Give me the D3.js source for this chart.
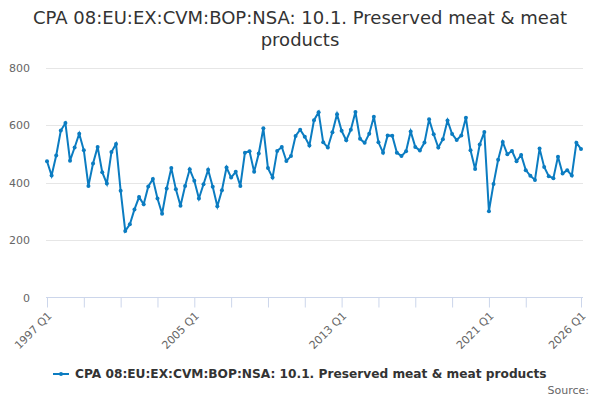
<!DOCTYPE html>
<html>
<head>
<meta charset="utf-8">
<script src="https://cdn.jsdelivr.net/npm/d3@7"></script>
<style>
  body { margin: 0; background: #fff; }
  svg { font-family: "DejaVu Sans", sans-serif; }
</style>
</head>
<body>
<svg id="chart"></svg>
<script>
var w = 600;
var h = 400;

var title = ["CPA 08:EU:EX:CVM:BOP:NSA: 10.1. Preserved meat & meat", "products"];
var seriesName = "CPA 08:EU:EX:CVM:BOP:NSA: 10.1. Preserved meat & meat products";
var startYear = 1997;
var values = [
    475, 425, 495, 582, 608, 477, 523, 571, 513, 389,
    467, 525, 437, 397, 507, 535, 372, 232, 255, 307,
    350, 325, 387, 413, 345, 292, 380, 451, 377, 320,
    389, 447, 407, 345, 395, 445, 386, 318, 374, 453,
    418, 438, 389, 505, 510, 438, 502, 590, 451, 418,
    511, 525, 476, 493, 563, 585, 560, 530, 618, 646,
    541, 523, 576, 639, 581, 548, 585, 647, 553, 539,
    571, 630, 541, 505, 565, 564, 505, 493, 510, 579,
    525, 512, 540, 621, 569, 523, 552, 617, 570, 549,
    565, 627, 513, 448, 533, 577, 301, 396, 480, 542,
    499, 511, 475, 497, 444, 424, 410, 519, 455, 423,
    416, 491, 432, 444, 425, 539, 518
];
var yTicks = [0, 200, 400, 600, 800];
var xTickIdx = [0, 8, 16, 24, 32, 40, 48, 56, 64, 72, 80, 88, 96, 104, 116];
var xLabelIdx = [0, 32, 64, 96, 116];

var labels = values.map(function (d, i) {
    return (startYear + Math.floor(i / 4)) + " Q" + (i % 4 + 1);
});

var svg = d3.select("#chart")
    .attr("width", w)
    .attr("height", h);

var x = d3.scaleLinear().domain([0, values.length - 1]).range([47, 581]);
var y = d3.scaleLinear().domain([0, 800]).range([297.5, 68]);

// title
svg.append("text")
    .attr("x", 300)
    .attr("y", 24)
    .attr("text-anchor", "middle")
    .attr("font-size", "18px")
    .attr("fill", "#333")
    .selectAll("tspan")
    .data(title)
    .enter()
    .append("tspan")
    .attr("x", 300)
    .attr("dy", function (d, i) { return i ? 22 : 0; })
    .text(function (d) { return d; });

// grid
svg.append("g")
    .selectAll("line")
    .data(yTicks.filter(function (d) { return d > 0; }))
    .enter()
    .append("line")
    .attr("x1", 46)
    .attr("x2", 583)
    .attr("y1", function (d) { return Math.round(y(d)) + 0.5; })
    .attr("y2", function (d) { return Math.round(y(d)) + 0.5; })
    .attr("stroke", "#e6e6e6");

// y axis labels
var yAxis = d3.axisLeft(y).tickValues(yTicks).tickSize(0).tickPadding(0);
var gy = svg.append("g").attr("transform", "translate(30,0)").call(yAxis);
gy.select(".domain").remove();
gy.selectAll("text")
    .attr("font-family", "DejaVu Sans, sans-serif")
    .attr("font-size", "11px")
    .attr("fill", "#666");

// x axis
var xAxis = d3.axisBottom(x)
    .tickValues(xTickIdx)
    .tickSize(10)
    .tickSizeOuter(0)
    .tickFormat(function (d) { return xLabelIdx.indexOf(d) >= 0 ? labels[d] : ""; });
var gx = svg.append("g").attr("transform", "translate(0,297.5)").call(xAxis);
gx.select(".domain").attr("stroke", "#ccd6eb").attr("d", "M46,0H583");
gx.selectAll(".tick line").attr("stroke", "#ccd6eb");
gx.selectAll(".tick text")
    .attr("font-family", "DejaVu Sans, sans-serif")
    .attr("font-size", "11px")
    .attr("fill", "#666")
    .attr("text-anchor", "end")
    .attr("y", 0)
    .attr("dy", 0)
    .attr("transform", "translate(5,19) rotate(-45)");

// line
var line = d3.line()
    .x(function (d, i) { return x(i); })
    .y(function (d) { return y(d); });

svg.append("path")
    .datum(values)
    .attr("d", line)
    .attr("fill", "none")
    .attr("stroke", "#0b7cc1")
    .attr("stroke-width", 2);

svg.append("g")
    .selectAll("circle")
    .data(values)
    .enter()
    .append("circle")
    .attr("cx", function (d, i) { return x(i); })
    .attr("cy", function (d) { return y(d); })
    .attr("r", 2)
    .attr("fill", "#0b7cc1");

// legend
svg.append("line")
    .attr("x1", 53)
    .attr("x2", 69)
    .attr("y1", 374)
    .attr("y2", 374)
    .attr("stroke", "#0b7cc1")
    .attr("stroke-width", 2);
svg.append("circle")
    .attr("cx", 61)
    .attr("cy", 374)
    .attr("r", 2)
    .attr("fill", "#0b7cc1");
svg.append("text")
    .text(seriesName)
    .attr("x", 75)
    .attr("y", 378)
    .attr("font-size", "12.2px")
    .attr("font-weight", "bold")
    .attr("fill", "#333");

svg.append("text")
    .text("Source:")
    .attr("x", 589)
    .attr("y", 394)
    .attr("text-anchor", "end")
    .attr("font-size", "11px")
    .attr("fill", "#666");
</script>
</body>
</html>
